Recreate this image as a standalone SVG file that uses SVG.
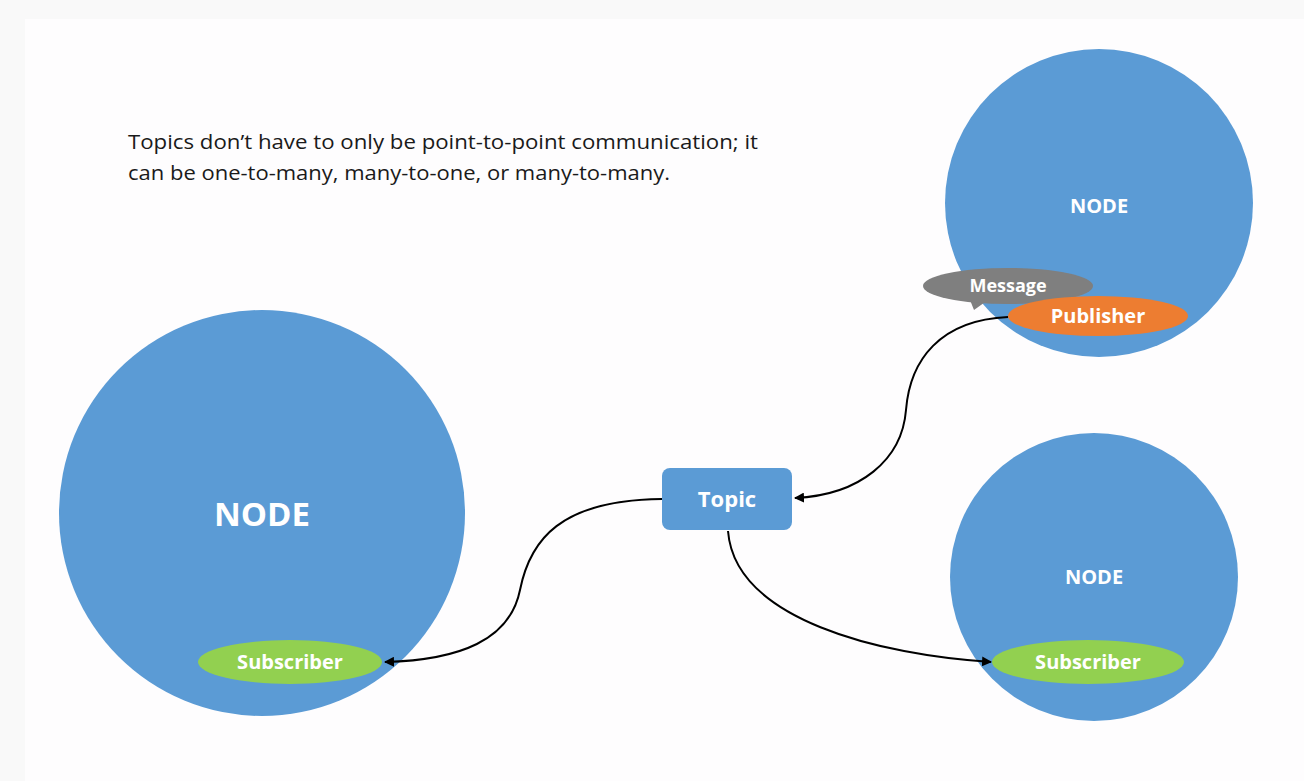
<svg xmlns="http://www.w3.org/2000/svg" width="1304" height="781" viewBox="0 0 1304 781">
<defs>
<style>
.blue{fill:#5b9bd5}
.lbl{font-family:"Open Sans","Liberation Sans",sans-serif;font-weight:bold;fill:#ffffff;text-anchor:middle}
.body{font-family:"Open Sans","Liberation Sans",sans-serif;font-size:20px;fill:#1a1a1a}
.conn{fill:none;stroke:#000;stroke-width:2}
</style>
<marker id="arr" viewBox="0 0 10 10" refX="9" refY="5" markerWidth="5" markerHeight="5" orient="auto" markerUnits="strokeWidth">
<path d="M0,0 L10,5 L0,10 z" fill="#000"/>
</marker>
</defs>
<rect x="0" y="0" width="1304" height="781" fill="#f9f9f9"/>
<rect x="25" y="19" width="1279" height="762" fill="#fefdfe"/>
<g id="caption">
<text class="body" x="128" y="149" textLength="630" lengthAdjust="spacingAndGlyphs">Topics don’t have to only be point-to-point communication; it</text>
<text class="body" x="128" y="180" textLength="542" lengthAdjust="spacingAndGlyphs">can be one-to-many, many-to-one, or many-to-many.</text>
</g>
<g id="node-left">
<circle class="blue" cx="262" cy="513" r="203"/>
<text class="lbl" x="262" y="526" font-size="33">NODE</text>
</g>
<g id="node-top-right">
<circle class="blue" cx="1099" cy="203" r="154"/>
<text class="lbl" x="1099" y="213" font-size="20">NODE</text>
</g>
<g id="node-bottom-right">
<circle class="blue" cx="1094" cy="577" r="144"/>
<text class="lbl" x="1094" y="584" font-size="20">NODE</text>
</g>
<g id="message">
<path d="M970,300 L974,310 L988,300 z" fill="#7f7f7f"/>
<ellipse cx="1008" cy="286" rx="85" ry="18" fill="#7f7f7f"/>
<text class="lbl" x="1008" y="292" font-size="18">Message</text>
</g>
<g id="publisher">
<ellipse cx="1098" cy="316" rx="90" ry="20" fill="#ed7d31"/>
<text class="lbl" x="1098" y="323" font-size="20">Publisher</text>
</g>
<g id="topic">
<rect x="662" y="468" width="130" height="62" rx="8" class="blue"/>
<text class="lbl" x="727" y="507" font-size="22">Topic</text>
</g>
<g id="subscriber-left">
<ellipse cx="290" cy="662" rx="92" ry="22" fill="#92d050"/>
<text class="lbl" x="290" y="669" font-size="20">Subscriber</text>
</g>
<g id="subscriber-right">
<ellipse cx="1088" cy="662" rx="96" ry="22" fill="#92d050"/>
<text class="lbl" x="1088" y="669" font-size="20">Subscriber</text>
</g>
<g id="connectors">
<path class="conn" d="M1008,317 C940,320 910,360 906,410 C902,460 860,495 795,498" marker-end="url(#arr)"/>
<path class="conn" d="M662,499 C560,500 530,540 520,590 C510,640 460,660 385,662" marker-end="url(#arr)"/>
<path class="conn" d="M728,531 C735,620 880,655 991,662" marker-end="url(#arr)"/>
</g>
</svg>
